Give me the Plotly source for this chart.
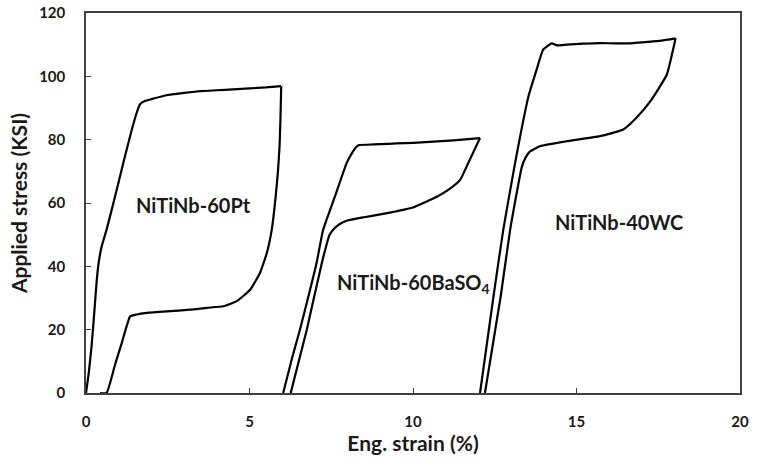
import plotly.graph_objects as go

# NiTiNb-60Pt
pt_load_x = [0, 0.08, 0.17, 0.25, 0.33, 0.4, 0.48, 0.63, 0.89, 1.14, 1.4, 1.55, 1.65, 1.8, 2.0, 2.5, 3.0, 3.5, 4.0, 4.5, 5.0, 5.5, 5.97]
pt_load_y = [0, 6, 14.7, 25, 35.8, 42, 46.3, 51.6, 62.1, 72.6, 83.1, 88.5, 91.2, 92.2, 92.8, 94.1, 94.8, 95.3, 95.6, 95.9, 96.2, 96.5, 96.9]
pt_unload_x = [5.97, 5.95, 5.92, 5.87, 5.8, 5.68, 5.53, 5.32, 5.02, 4.61, 4.2, 3.69, 3.18, 2.47, 1.86, 1.55, 1.35, 1.1, 0.89, 0.63, 0.43]
pt_unload_y = [96.9, 88, 78, 70, 62, 51.5, 44.2, 37.9, 32.6, 29.0, 27.4, 26.9, 26.3, 25.8, 25.3, 24.8, 24.2, 16, 9.0, 0, 0]

# NiTiNb-60BaSO4
ba_load_x = [6.03, 6.3, 6.54, 6.8, 7.05, 7.25, 7.61, 7.97, 8.12, 8.25, 8.35, 8.6, 9.0, 9.5, 10.0, 10.5, 11.0, 11.5, 12.05]
ba_load_y = [0, 11, 19.9, 30.5, 41, 51.5, 62, 72.6, 75.5, 77.5, 78.3, 78.4, 78.6, 78.8, 79.0, 79.3, 79.6, 80.0, 80.5]
ba_unload_x = [12.05, 11.75, 11.44, 11.1, 10.73, 10.0, 9.5, 9.0, 8.5, 7.97, 7.75, 7.6, 7.45, 7.21, 6.75, 6.26]
ba_unload_y = [80.5, 74, 67.3, 64.3, 62, 58.6, 57.4, 56.4, 55.5, 54.4, 53.3, 52, 50, 41, 19.9, 0]

# NiTiNb-40WC
wc_load_x = [12.05, 12.46, 12.76, 13.12, 13.53, 13.78, 13.98, 14.24, 14.4, 14.7, 15.2, 15.72, 16.2, 16.74, 17.2, 17.6, 18.03]
wc_load_y = [0, 30.4, 51.5, 72.5, 93.6, 102.1, 108.4, 110.4, 109.8, 110.0, 110.3, 110.5, 110.4, 110.5, 110.9, 111.3, 112.0]
wc_unload_x = [18.03, 17.76, 17.25, 16.84, 16.43, 15.72, 14.7, 14.2, 13.88, 13.58, 13.45, 13.33, 12.97, 12.68, 12.2]
wc_unload_y = [112.0, 100.5, 92, 87, 83.2, 81.1, 79.5, 78.6, 77.9, 76.3, 74.5, 71.5, 51.5, 30.4, 0]

labels = ["NiTiNb-60Pt", "NiTiNb-60BaSO<sub>4</sub>", "NiTiNb-40WC"]
label_x = [3.3, 10.0, 16.3]
label_y = [59.4, 34.7, 54.1]

x_ticks = [0, 5, 10, 15, 20]
y_ticks = [0, 20, 40, 60, 80, 100, 120]

FONT = "Lato"
TXT = "#1a1a1a"
fig = go.Figure()
for xs, ys in [(pt_load_x, pt_load_y), (pt_unload_x, pt_unload_y),
               (ba_load_x, ba_load_y), (ba_unload_x, ba_unload_y),
               (wc_load_x, wc_load_y), (wc_unload_x, wc_unload_y)]:
    fig.add_trace(go.Scatter(x=xs, y=ys, mode="lines",
                             line=dict(color="black", width=2.2, shape="spline", smoothing=0.4),
                             showlegend=False, hoverinfo="skip"))

for t, x, y in zip(labels, label_x, label_y):
    fig.add_annotation(x=x, y=y, text=t, showarrow=False,
                       font=dict(family=FONT, size=20, color=TXT, weight="bold"))

axis_common = dict(showline=True, linecolor="#404040", linewidth=1.5, mirror=True,
                   ticks="inside", ticklen=5, tickcolor="#404040", tickwidth=1.2,
                   showgrid=False, zeroline=False, automargin=False,
                   tickfont=dict(family=FONT, size=15, color=TXT, weight="bold"))

fig.update_xaxes(range=[0, 20], tickvals=x_ticks, ticklabelstandoff=14,
                 title=dict(text="Eng. strain (%)", standoff=6,
                            font=dict(family=FONT, size=21, color=TXT, weight="bold")),
                 **axis_common)
fig.update_yaxes(range=[0, 120], tickvals=y_ticks, ticklabelstandoff=16,
                 title=dict(text="Applied stress (KSI)", standoff=6,
                            font=dict(family=FONT, size=21, color=TXT, weight="bold")),
                 **axis_common)

fig.update_layout(width=757, height=465, margin=dict(l=86, r=17, t=13, b=72),
                  paper_bgcolor="white", plot_bgcolor="white")
fig.write_html("out.html", config={"displayModeBar": False},
               post_script="document.body.style.margin='0';document.body.style.overflow='hidden';")
